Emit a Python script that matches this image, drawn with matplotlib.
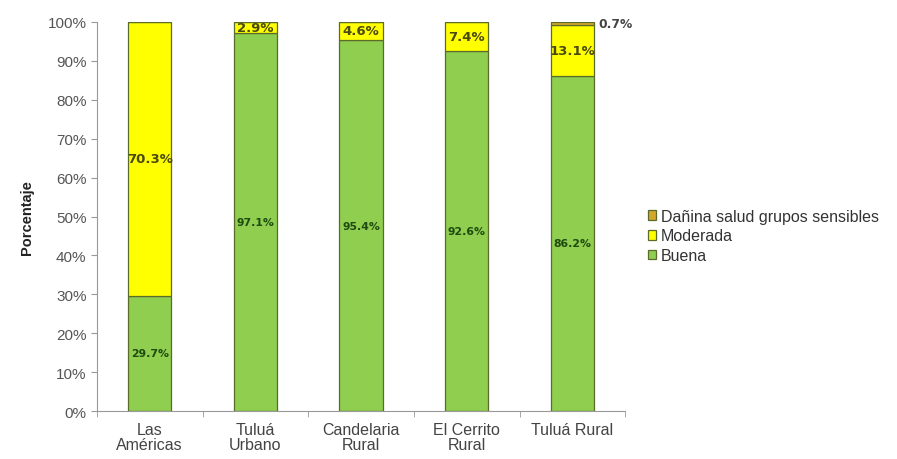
import matplotlib.pyplot as plt
import numpy as np

# Data
categories = ['Las\nAméricas', 'Tuluá\nUrbano', 'Candelaria\nRural', 'El Cerrito\nRural', 'Tuluá Rural']
buena = [29.7, 97.1, 95.4, 92.6, 86.2]
moderada = [70.3, 2.9, 4.6, 7.4, 13.1]
danina = [0.0, 0.0, 0.0, 0.0, 0.7]

plt.rcParams['font.family'] = ['Liberation Sans', 'DejaVu Sans']

fig = plt.figure(figsize=(8.97, 4.60), dpi=100)
ax = fig.add_axes([0.108, 0.104, 0.589, 0.846])

x = np.arange(len(categories))
w = 0.41
edge = '#5a6b2a'
b1 = ax.bar(x, buena, w, color='#8fce4f', edgecolor=edge, linewidth=0.9, label='Buena')
b2 = ax.bar(x, moderada, w, bottom=buena, color='#ffff00', edgecolor=edge, linewidth=0.9, label='Moderada')
bottom3 = np.array(buena) + np.array(moderada)
b3 = ax.bar(x, danina, w, bottom=bottom3, color='#d4a62a', edgecolor=edge, linewidth=0.9,
            label='Dañina salud grupos sensibles')

# value labels
for i in range(len(categories)):
    ax.text(x[i], buena[i] / 2, f'{buena[i]:.1f}%', ha='center', va='center',
            fontsize=7.8, fontweight='bold', color='#1f4a10', family='DejaVu Sans')
    ax.text(x[i], buena[i] + moderada[i] / 2, f'{moderada[i]:.1f}%', ha='center', va='center',
            fontsize=9.5, fontweight='bold', color='#4a4a10', family='DejaVu Sans')
    if danina[i] > 0:
        ax.text(x[i] + w / 2 + 0.04, bottom3[i] + 0.3, f'{danina[i]:.1f}%', ha='left', va='center',
                fontsize=8.8, fontweight='bold', color='#444444', family='DejaVu Sans')

ax.set_xlim(-0.5, len(categories) - 0.5)
ax.set_ylim(0, 100)
ax.set_yticks(np.arange(0, 101, 10))
ax.set_yticklabels([f'{v}%' for v in range(0, 101, 10)], color='#555555', fontsize=11)
ax.set_ylabel('Porcentaje', fontsize=10.5, fontweight='bold', color='#222222', labelpad=10)

ax.set_xticks(x)
ax.set_xticklabels(categories, color='#444444', fontsize=11.5, linespacing=0.95)
ax.tick_params(axis='x', length=0, pad=8)
ax.set_xticks(np.arange(-0.5, len(categories), 1), minor=True)
ax.tick_params(axis='x', which='minor', length=4, color='#999999')
ax.tick_params(axis='y', length=4, color='#999999')

for s in ['top', 'right']:
    ax.spines[s].set_visible(False)
for s in ['left', 'bottom']:
    ax.spines[s].set_color('#999999')

handles = [b3, b2, b1]
leg = fig.legend(handles, [h.get_label() for h in handles], loc='center left',
                 bbox_to_anchor=(0.722, 0.485), frameon=False, fontsize=11.5,
                 handlelength=0.55, handleheight=0.55, handletextpad=0.3, labelspacing=0.3,
                 borderpad=0, borderaxespad=0)
for t in leg.get_texts():
    t.set_color('#333333')

plt.savefig('out.png', dpi=100)
